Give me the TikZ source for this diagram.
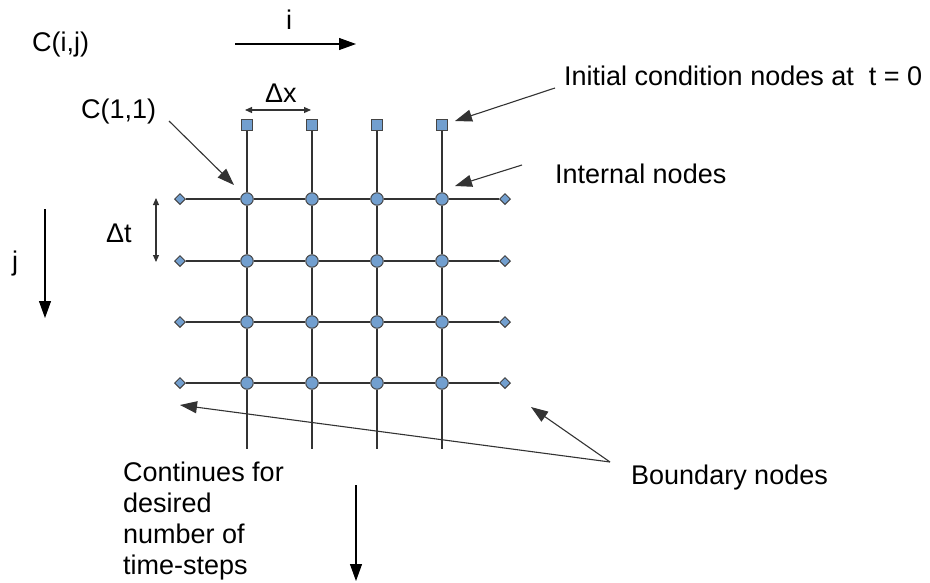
\documentclass[tikz,border=0pt]{standalone}
\usepackage{fontspec}
\setmainfont{Liberation Sans}
\usetikzlibrary{arrows.meta,shapes.geometric}
\definecolor{nodefill}{HTML}{729FCF}
\definecolor{nodeline}{HTML}{444444}
\definecolor{linec}{HTML}{333333}
\tikzset{
  gridline/.style={draw=linec, line width=1.1pt},
  inode/.style={circle, draw=nodeline, fill=nodefill, line width=1pt, minimum size=12.5pt, inner sep=0pt},
  snode/.style={rectangle, draw=nodeline, fill=nodefill, line width=1pt, minimum size=10.5pt, inner sep=0pt},
  bnode/.style={diamond, draw=nodeline, fill=nodefill, line width=1pt, minimum size=11pt, inner sep=0pt},
  lbl/.style={inner sep=0pt, anchor=base west, font=\fontsize{27}{31}\selectfont, text=black},
  bigarrow/.style={draw=black, line width=1.1pt, -{Triangle[length=17pt,width=12pt]}},
  notearrow/.style={draw=linec, line width=1.1pt, -{Triangle[length=17pt,width=12pt]}},
  dimarrow/.style={draw=linec, line width=1.1pt, {Triangle[length=7pt,width=6pt]}-{Triangle[length=7pt,width=6pt]}}
}
\begin{document}
\begin{tikzpicture}[x=1pt,y=-1pt]
\useasboundingbox (0,0) rectangle (930,582);
% grid nodes
\foreach \c/\x in {1/247,2/312,3/377,4/442}{
  \node[snode] (s-\c) at (\x,125) {};
  \coordinate (e-\c) at (\x,449);
  \foreach \r/\y in {1/199,2/261,3/322,4/383}{
    \node[inode] (n-\c-\r) at (\x,\y) {};
  }
}
\foreach \r/\y in {1/199,2/261,3/322,4/383}{
  \node[bnode] (bl-\r) at (180,\y) {};
  \node[bnode] (br-\r) at (505,\y) {};
}
% lines
\foreach \r in {1,2,3,4}{
  \draw[gridline] (bl-\r) -- (n-1-\r) -- (n-2-\r) -- (n-3-\r) -- (n-4-\r) -- (br-\r);
}
\foreach \c in {1,2,3,4}{
  \draw[gridline] (s-\c) -- (n-\c-1) -- (n-\c-2) -- (n-\c-3) -- (n-\c-4) -- (e-\c);
}
% labels
\node[lbl] (cij) at (32,51) {C(i,j)};
\node[lbl] (ilbl) at (286,29) {i};
\node[lbl] (c11) at (81,118) {C(1,1)};
\node[lbl] (dx) at (265,102) {Δx};
\node[lbl] (dt) at (106,242) {Δt};
\node[lbl] (jlbl) at (12,270) {j};
\node[lbl] (init) at (564,85) {Initial condition nodes at~~t = 0};
\node[lbl] (intl) at (555,183) {Internal nodes};
\node[lbl] (bdry) at (631,484) {Boundary nodes};
\node[lbl, align=left, anchor=north west] (cont) at (123,462) {Continues for\\desired\\number of\\time-steps};
% axis arrows
\coordinate (ia) at (235,44); \coordinate (ib) at (356,44);
\draw[bigarrow] (ia) -- (ib);
\coordinate (ja) at (45,209); \coordinate (jb) at (45,318);
\draw[bigarrow] (ja) -- (jb);
\coordinate (ka) at (356,485); \coordinate (kb) at (356,581);
\draw[bigarrow] (ka) -- (kb);
% dimension arrows
\coordinate (dxa) at (245,110); \coordinate (dxb) at (311,110);
\draw[dimarrow] (dxa) -- (dxb);
\coordinate (dta) at (156,198); \coordinate (dtb) at (156,262);
\draw[dimarrow] (dta) -- (dtb);
% annotation arrows
\coordinate (c11a) at (169,121); \coordinate (c11b) at (234,185);
\draw[notearrow] (c11a) -- (c11b);
\coordinate (inita) at (555,88); \coordinate (initb) at (455,121);
\draw[notearrow] (inita) -- (initb);
\coordinate (intla) at (522,165); \coordinate (intlb) at (455,186);
\draw[notearrow] (intla) -- (intlb);
\coordinate (bda) at (610,462); \coordinate (bdb) at (531,407); \coordinate (bdc) at (180,405);
\draw[notearrow] (bda) -- (bdb);
\draw[notearrow] (bda) -- (bdc);
\end{tikzpicture}
\end{document}
